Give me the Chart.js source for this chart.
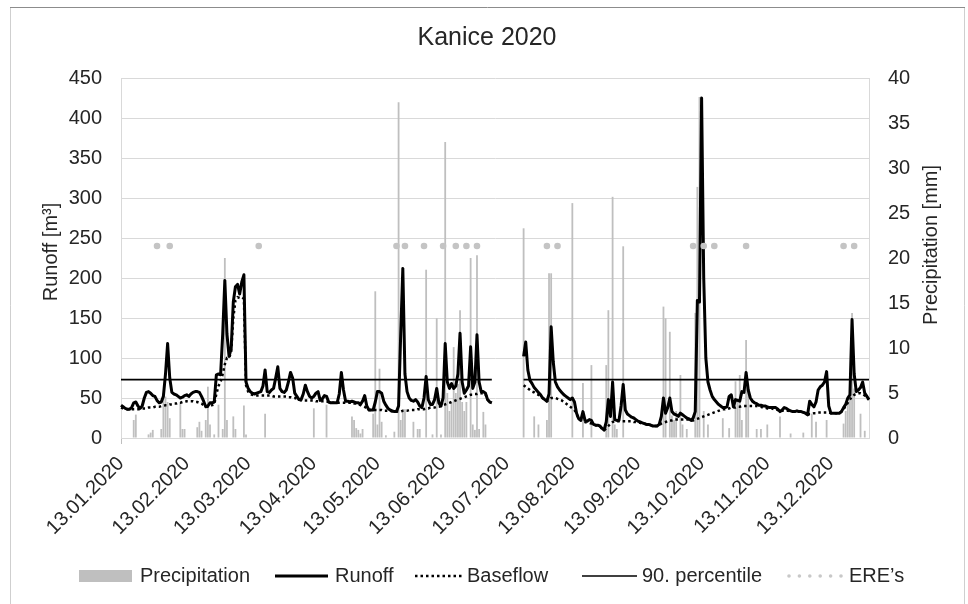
<!DOCTYPE html>
<html><head><meta charset="utf-8">
<script src="https://cdn.jsdelivr.net/npm/chart.js@4.4.1/dist/chart.umd.min.js"></script>
<style>html,body{margin:0;padding:0;background:#fff;}canvas{display:block;}</style>
</head><body>
<canvas id="c" width="968" height="604"></canvas>
<script>
const titleText = 'Kanice 2020';
const leftTitle = 'Runoff [m³]';
const rightTitle = 'Precipitation [mm]';
const dayCount = 354; // 13.01.2020 .. 31.12.2020
const monthTicks = ['13.01.2020','13.02.2020','13.03.2020','13.04.2020','13.05.2020','13.06.2020',
  '13.07.2020','13.08.2020','13.09.2020','13.10.2020','13.11.2020','13.12.2020'];

const runoff = [
  41,39,37,36,36,38,44,45,40,37,
  40,50,57,58,56,53,52,47,44,45,
  52,80,118,75,57,55,54,52,50,51,
  53,54,52,55,57,58,58,57,52,46,
  39,40,44,44,45,79,80,79,130,197,
  130,102,112,170,189,192,180,195,204,70,
  62,58,56,55,56,57,58,65,85,58,
  57,60,62,75,89,62,58,57,60,70,
  82,75,56,52,48,48,55,66,58,52,
  50,52,56,58,47,49,53,52,45,44,
  44,44,44,55,82,60,46,46,45,46,
  45,44,44,42,46,53,40,35,35,35,
  45,58,58,56,46,41,37,35,34,33,
  33,40,130,212,80,58,50,47,46,48,
  45,40,38,50,77,48,42,42,48,62,
  44,40,50,118,70,62,68,62,65,80,
  131,70,56,60,65,114,62,70,129,70,
  58,58,56,48,45,44,null,null,null,null,
  null,null,null,null,null,null,null,null,null,null,
  102,120,85,72,68,63,60,57,54,50,
  48,46,55,139,95,70,64,60,57,54,
  52,50,48,50,45,31,24,22,33,22,
  21,23,22,17,16,16,15,12,10,20,
  48,27,70,23,22,22,40,67,35,30,
  28,26,25,23,21,20,19,18,17,17,
  16,15,15,15,17,27,50,31,38,50,
  33,30,29,27,31,29,27,25,24,22,
  25,33,172,170,425,200,100,70,60,52,
  48,45,42,40,38,38,39,52,54,39,
  48,47,46,58,57,82,60,50,46,44,
  43,41,41,40,40,39,38,38,38,38,
  36,33,35,38,37,35,34,33,33,34,
  33,33,32,31,29,46,42,39,45,60,
  64,66,70,83,40,31,31,31,31,31,
  33,38,42,50,54,148,80,58,60,63,
  70,56,52,48
];

const baseflow = [
  38,37,36,36,36,36,36,36,36,36,
  37,37,37,38,38,38,39,39,39,40,
  40,41,41,42,42,43,43,44,44,45,
  45,46,46,46,46,45,45,44,43,41,
  39,39,40,41,42,55,65,70,80,92,
  100,100,108,150,172,176,175,176,174,66,
  58,55,54,53,53,53,53,53,53,53,
  53,53,52,52,52,52,52,52,52,51,
  51,50,50,49,48,47,47,47,47,47,
  47,47,46,46,46,46,46,46,45,44,
  44,44,44,44,44,44,44,44,44,44,
  43,43,42,41,40,39,37,35,35,35,
  35,35,35,35,34,34,34,34,33,33,
  33,33,33,34,34,34,35,35,35,35,
  36,36,36,36,37,37,38,38,38,39,
  39,40,41,42,43,44,45,46,47,48,
  49,50,51,52,53,54,54,55,55,56,
  56,56,55,48,45,44,null,null,null,null,
  null,null,null,null,null,null,null,null,null,null,
  66,64,62,60,58,57,55,54,52,50,
  48,46,48,50,50,50,49,48,47,45,
  43,41,39,37,35,30,24,22,21,20,
  19,19,18,17,16,16,15,12,10,12,
  15,18,20,21,21,21,21,21,21,21,
  21,21,20,20,19,19,18,18,17,17,
  16,15,15,15,16,18,19,20,21,22,
  22,23,23,23,23,23,23,23,23,22,
  22,23,24,25,26,27,28,29,30,31,
  32,33,34,35,36,36,37,37,38,38,
  38,39,39,40,40,40,40,40,40,40,
  40,39,39,38,38,37,37,37,36,36,
  35,33,34,34,34,34,33,33,33,33,
  33,33,32,31,29,30,30,31,31,32,
  32,32,32,32,32,31,31,31,31,31,
  33,36,40,44,48,52,54,55,56,56,
  55,53,50,48
];

const precipDays = [
  6,7,13,14,15,19,20,21,22,23, 28,29,30,36,37,38,40,41,42,44,
  46,48,49,50,53,54,58,59,68,91, 97,109,110,111,112,113,114,119,120,121,
  122,123,125,129,131,132,133,134,138,140, 141,144,147,149,151,153,154,155,156,157,
  158,159,160,161,162,163,165,166,167,168, 169,171,172,190,195,197,201,202,203,213,
  218,222,229,230,232,233,234,237,256,257, 259,260,261,262,264,265,267,271,272,273,
  275,277,284,287,290,291,292,293,295,296, 300,302,305,311,316,322,326,328,333,341,
  342,343,344,345,346,349,351
];
const precipValues = [
  2.0,2.6,0.4,0.6,0.9,1.0,5.0,4.6,4.0,2.2, 4.0,1.0,1.0,1.2,1.8,0.8,2.0,5.7,1.5,0.4,
  3.7,1.0,20.0,2.0,2.4,1.0,3.6,0.4,2.7,3.3, 3.7,2.4,2.0,1.1,0.9,0.5,1.0,2.7,16.3,1.5,
  7.7,1.8,0.3,0.7,37.3,2.0,3.0,3.2,1.8,1.0, 1.0,18.7,0.4,13.3,0.4,32.9,5.0,3.0,4.0,10.1,
  5.0,6.0,14.2,4.0,3.0,4.0,20.0,1.5,0.9,20.3, 1.0,2.9,1.5,23.3,2.4,1.5,2.0,18.3,18.3,26.1,
  6.1,8.1,8.1,14.2,26.8,1.5,1.0,21.3,14.6,13.3, 11.8,2.5,2.0,3.0,7.0,1.5,1.0,13.9,27.9,37.9,
  3.0,1.5,2.2,1.1,6.3,4.3,7.0,2.0,10.9,6.0, 1.0,1.0,1.5,2.4,0.5,0.6,2.7,1.8,2.0,1.6,
  3.0,4.0,5.0,13.9,5.5,2.7,0.8
];

const ereDays = [17,23,65,130,134,143,152,158,163,168,201,206,270,275,280,295,341,346];
const ereLevel = 240;
const percentile90 = 73;

// ---- build library tables ----
const labels = [];
for (let i = 0; i < dayCount; i++) {
  const d = new Date(Date.UTC(2020, 0, 13 + i));
  const dd = String(d.getUTCDate()).padStart(2, '0');
  const mm = String(d.getUTCMonth() + 1).padStart(2, '0');
  labels.push(dd + '.' + mm + '.' + d.getUTCFullYear());
}
const precip = new Array(dayCount).fill(null);
precipDays.forEach((d, i) => { precip[d] = precipValues[i]; });
const ere = new Array(dayCount).fill(null);
ereDays.forEach(d => { ere[d] = ereLevel; });
const p90 = runoff.map(v => v === null ? null : percentile90);

const FONT = "'Liberation Sans', Arial, sans-serif";
const TXT = '#262626';
Chart.defaults.font.family = FONT;
Chart.defaults.color = TXT;

const isMonthTick = i => monthTicks.includes(labels[i]);

const decor = {
  id: 'decor',
  beforeDraw(chart) {
    const c = chart.ctx; c.save(); c.fillStyle = '#fff'; c.fillRect(0, 0, chart.width, chart.height); c.restore();
  },
  afterDraw(chart) {
    const c = chart.ctx; c.save();
    // outer frame
    c.lineWidth = 1;
    c.strokeStyle = '#cfcfcf';
    c.beginPath(); c.moveTo(10.5, 604); c.lineTo(10.5, 7.5); c.moveTo(964.5, 7.5); c.lineTo(964.5, 604); c.stroke();
    c.strokeStyle = '#8c8c8c';
    c.beginPath(); c.moveTo(10, 7.5); c.lineTo(965, 7.5); c.stroke();
    // title
    c.fillStyle = TXT; c.textAlign = 'center'; c.textBaseline = 'middle';
    c.font = '25px ' + FONT;
    c.fillText(titleText, 487, 38);
    // axis titles
    c.font = '20px ' + FONT;
    c.save(); c.translate(51, 252); c.rotate(-Math.PI / 2); c.fillText(leftTitle, 0, 0); c.restore();
    c.save(); c.translate(931, 245); c.rotate(-Math.PI / 2); c.fillText(rightTitle, 0, 0); c.restore();
    // legend
    const ly = 576;
    c.textAlign = 'left';
    c.fillStyle = '#bfbfbf'; c.fillRect(79, 570, 53, 12);
    c.fillStyle = TXT; c.fillText(chart.data.datasets[4].label, 140, ly);
    c.strokeStyle = '#000'; c.lineWidth = 3; c.setLineDash([]);
    c.beginPath(); c.moveTo(275, ly); c.lineTo(328, ly); c.stroke();
    c.fillText(chart.data.datasets[1].label, 335, ly);
    c.lineWidth = 2.5; c.setLineDash([2.5, 3]);
    c.beginPath(); c.moveTo(415, ly); c.lineTo(463, ly); c.stroke();
    c.setLineDash([]);
    c.fillText(chart.data.datasets[2].label, 467, ly);
    c.lineWidth = 1.6;
    c.beginPath(); c.moveTo(582, ly); c.lineTo(637, ly); c.stroke();
    c.fillText(chart.data.datasets[3].label, 642, ly);
    c.fillStyle = '#c8c8c8';
    for (let x = 789; x <= 841; x += 10.4) { c.beginPath(); c.arc(x, ly, 1.8, 0, Math.PI * 2); c.fill(); }
    c.fillStyle = TXT; c.fillText(chart.data.datasets[0].label, 849, ly);
    c.restore();
  }
};

new Chart(document.getElementById('c').getContext('2d'), {
  type: 'bar',
  data: {
    labels: labels,
    datasets: [
      { type: 'line', label: 'ERE’s', data: ere, showLine: false, pointRadius: 3.3, pointHoverRadius: 3.3,
        pointBackgroundColor: '#c4c4c4', pointBorderWidth: 0, borderColor: '#c4c4c4', yAxisID: 'y', order: 1 },
      { type: 'line', label: 'Runoff', data: runoff, borderColor: '#000', borderWidth: 3, pointRadius: 0,
        tension: 0, spanGaps: false, borderJoinStyle: 'round', yAxisID: 'y', order: 2 },
      { type: 'line', label: 'Baseflow', data: baseflow, borderColor: '#000', borderWidth: 2.5, borderDash: [2.5, 3],
        pointRadius: 0, tension: 0, spanGaps: false, yAxisID: 'y', order: 3 },
      { type: 'line', label: '90. percentile', data: p90, borderColor: '#000', borderWidth: 1.6, pointRadius: 0,
        spanGaps: false, yAxisID: 'y', order: 4 },
      { type: 'bar', label: 'Precipitation', data: precip, backgroundColor: '#bfbfbf', borderWidth: 0,
        barPercentage: 0.85, categoryPercentage: 1, yAxisID: 'y1', order: 5 }
    ]
  },
  options: {
    responsive: false, animation: false,
    layout: { padding: { top: 78, left: 0, right: 0, bottom: 0 } },
    plugins: { legend: { display: false }, tooltip: { enabled: false }, title: { display: false } },
    scales: {
      x: {
        offset: false,
        grid: { offset: false, drawOnChartArea: false, drawTicks: true, tickLength: 6,
          color: ctx => isMonthTick(ctx.index) ? '#bfbfbf' : 'rgba(0,0,0,0)' },
        border: { color: '#d9d9d9' },
        ticks: { autoSkip: false, maxRotation: 45, minRotation: 45, padding: 8, font: { size: 20 }, color: TXT,
          callback: (v, i) => isMonthTick(i) ? labels[i] : null },
        afterFit: s => { s.height = 166; }
      },
      y: {
        position: 'left', min: 0, max: 450,
        ticks: { stepSize: 50, padding: 19, font: { size: 20 }, color: TXT },
        grid: { color: '#d9d9d9', drawTicks: false },
        border: { color: '#d9d9d9' },
        afterFit: s => { s.width = 121; }
      },
      y1: {
        position: 'right', min: 0, max: 40,
        ticks: { stepSize: 5, padding: 19, font: { size: 20 }, color: TXT },
        grid: { drawOnChartArea: false, drawTicks: false },
        border: { color: '#d9d9d9' },
        afterFit: s => { s.width = 99; }
      }
    }
  },
  plugins: [decor]
});
</script>
</body></html>
